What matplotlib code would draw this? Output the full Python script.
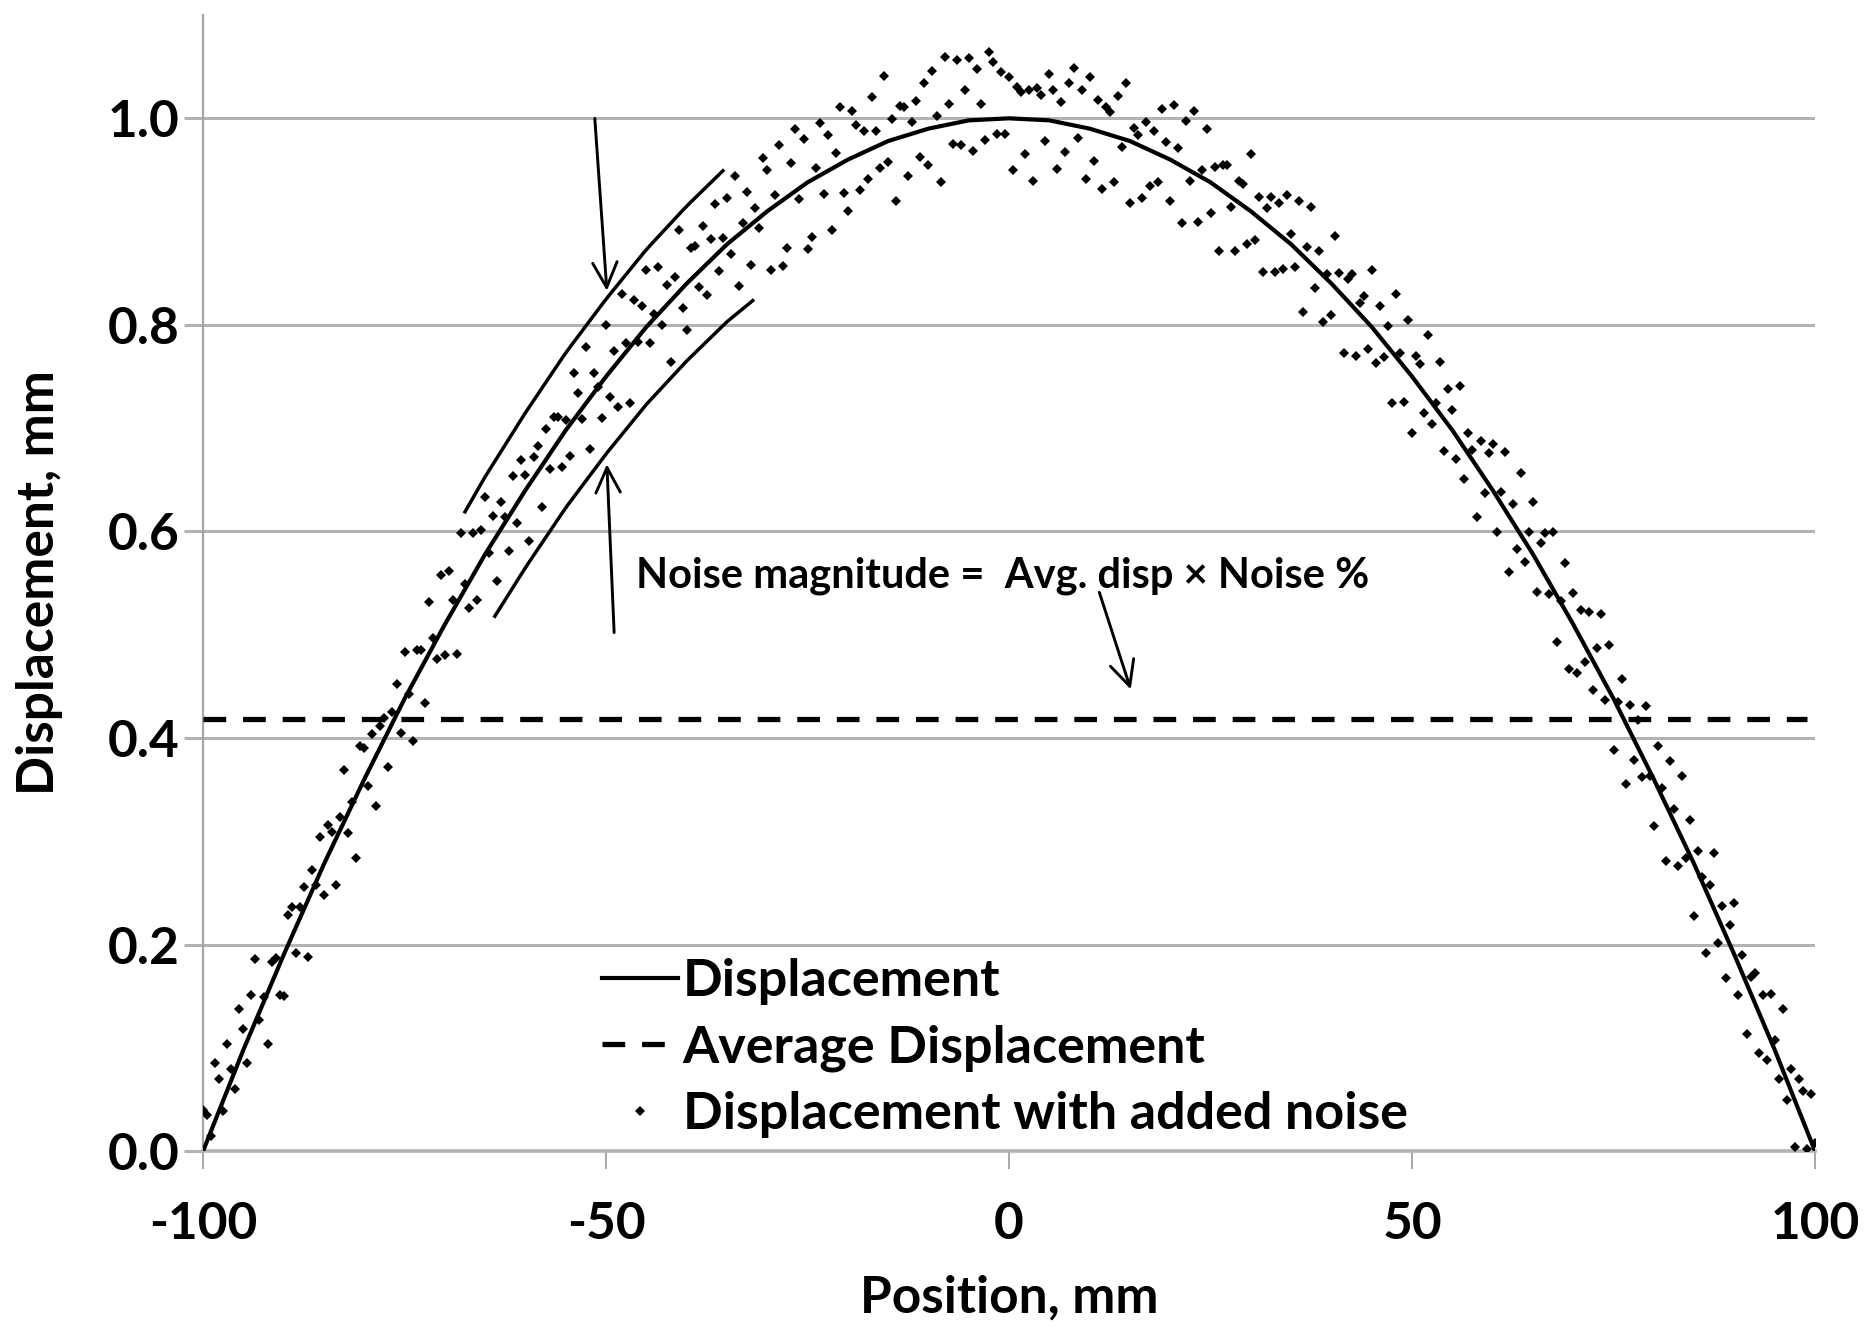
import numpy as np
import matplotlib
matplotlib.use("Agg")
from matplotlib import pyplot as plt

plt.rcParams['font.family'] = ['Lato', 'DejaVu Sans']
plt.rcParams['font.weight'] = 'bold'
plt.rcParams['axes.unicode_minus'] = False

# smooth displacement, read every 5 mm
position = [-100, -95, -90, -85, -80, -75, -70, -65, -60, -55, -50,
            -45, -40, -35, -30, -25, -20, -15, -10, -5, 0,
            5, 10, 15, 20, 25, 30, 35, 40, 45, 50,
            55, 60, 65, 70, 75, 80, 85, 90, 95, 100]
displacement = [0.0, 0.098, 0.19, 0.278, 0.36, 0.438, 0.51, 0.578, 0.64, 0.698, 0.75,
                0.798, 0.84, 0.878, 0.91, 0.938, 0.96, 0.978, 0.99, 0.998, 1.0,
                0.998, 0.99, 0.978, 0.96, 0.938, 0.91, 0.878, 0.84, 0.798, 0.75,
                0.698, 0.64, 0.578, 0.51, 0.438, 0.36, 0.278, 0.19, 0.098, 0.0]

avg_displacement = 0.418

# noisy samples (position in mm, displacement in micrometres)
noisy_x = [
    -100, -99.5, -99, -98.5, -98, -97.5, -97, -96.5, -96, -95.5, -95, -94.5, -94, -93.5, -93, -92.5, -92, -91.5, -91, -90.5,
    -90, -89.5, -89, -88.5, -88, -87.5, -87, -86.5, -86, -85.5, -85, -84.5, -84, -83.5, -83, -82.5, -82, -81.5, -81, -80.5,
    -80, -79.5, -79, -78.5, -78, -77.5, -77, -76.5, -76, -75.5, -75, -74.5, -74, -73.5, -73, -72.5, -72, -71.5, -71, -70.5,
    -70, -69.5, -69, -68.5, -68, -67.5, -67, -66.5, -66, -65.5, -65, -64.5, -64, -63.5, -63, -62.5, -62, -61.5, -61, -60.5,
    -60, -59.5, -59, -58.5, -58, -57.5, -57, -56.5, -56, -55.5, -55, -54.5, -54, -53.5, -53, -52.5, -52, -51.5, -51, -50.5,
    -50, -49.5, -49, -48.5, -48, -47.5, -47, -46.5, -46, -45.5, -45, -44.5, -44, -43.5, -43, -42.5, -42, -41.5, -41, -40.5,
    -40, -39.5, -39, -38.5, -38, -37.5, -37, -36.5, -36, -35.5, -35, -34.5, -34, -33.5, -33, -32.5, -32, -31.5, -31, -30.5,
    -30, -29.5, -29, -28.5, -28, -27.5, -27, -26.5, -26, -25.5, -25, -24.5, -24, -23.5, -23, -22.5, -22, -21.5, -21, -20.5,
    -20, -19.5, -19, -18.5, -18, -17.5, -17, -16.5, -16, -15.5, -15, -14.5, -14, -13.5, -13, -12.5, -12, -11.5, -11, -10.5,
    -10, -9.5, -9, -8.5, -8, -7.5, -7, -6.5, -6, -5.5, -5, -4.5, -4, -3.5, -3, -2.5, -2, -1.5, -1, -0.5,
    0, 0.5, 1, 1.5, 2, 2.5, 3, 3.5, 4, 4.5, 5, 5.5, 6, 6.5, 7, 7.5, 8, 8.5, 9, 9.5,
    10, 10.5, 11, 11.5, 12, 12.5, 13, 13.5, 14, 14.5, 15, 15.5, 16, 16.5, 17, 17.5, 18, 18.5, 19, 19.5,
    20, 20.5, 21, 21.5, 22, 22.5, 23, 23.5, 24, 24.5, 25, 25.5, 26, 26.5, 27, 27.5, 28, 28.5, 29, 29.5,
    30, 30.5, 31, 31.5, 32, 32.5, 33, 33.5, 34, 34.5, 35, 35.5, 36, 36.5, 37, 37.5, 38, 38.5, 39, 39.5,
    40, 40.5, 41, 41.5, 42, 42.5, 43, 43.5, 44, 44.5, 45, 45.5, 46, 46.5, 47, 47.5, 48, 48.5, 49, 49.5,
    50, 50.5, 51, 51.5, 52, 52.5, 53, 53.5, 54, 54.5, 55, 55.5, 56, 56.5, 57, 57.5, 58, 58.5, 59, 59.5,
    60, 60.5, 61, 61.5, 62, 62.5, 63, 63.5, 64, 64.5, 65, 65.5, 66, 66.5, 67, 67.5, 68, 68.5, 69, 69.5,
    70, 70.5, 71, 71.5, 72, 72.5, 73, 73.5, 74, 74.5, 75, 75.5, 76, 76.5, 77, 77.5, 78, 78.5, 79, 79.5,
    80, 80.5, 81, 81.5, 82, 82.5, 83, 83.5, 84, 84.5, 85, 85.5, 86, 86.5, 87, 87.5, 88, 88.5, 89, 89.5,
    90, 90.5, 91, 91.5, 92, 92.5, 93, 93.5, 94, 94.5, 95, 95.5, 96, 96.5, 97, 97.5, 98, 98.5, 99, 99.5,
    100]
noisy_um = [
    40, 35, 15, 85, 70, 39, 104, 79, 60, 138, 118, 85, 151, 186, 127, 149, 104, 183, 187, 151,
    150, 229, 236, 192, 236, 256, 188, 272, 258, 304, 248, 316, 309, 258, 323, 369, 308, 338, 284, 392,
    390, 353, 404, 334, 412, 419, 372, 425, 452, 405, 483, 443, 397, 485, 485, 434, 532, 497, 476, 558,
    480, 562, 534, 481, 598, 549, 526, 598, 534, 601, 633, 579, 615, 552, 628, 614, 581, 654, 608, 669,
    655, 591, 672, 683, 624, 699, 660, 711, 711, 662, 708, 673, 753, 734, 709, 779, 680, 753, 740, 710,
    800, 730, 775, 720, 830, 782, 724, 824, 783, 818, 853, 782, 811, 856, 800, 839, 764, 846, 892, 816,
    795, 874, 876, 837, 896, 829, 883, 917, 852, 884, 923, 869, 944, 838, 899, 929, 858, 913, 894, 962,
    950, 853, 926, 974, 857, 874, 957, 990, 922, 980, 873, 885, 952, 995, 927, 984, 892, 966, 1011, 928,
    910, 1007, 994, 931, 988, 941, 1021, 988, 952, 1041, 958, 999, 920, 1012, 1011, 944, 996, 1017, 963, 1034,
    955, 1046, 1002, 938, 1059, 1014, 975, 1056, 974, 1027, 1058, 968, 1048, 1014, 979, 1064, 1055, 985, 1045, 985,
    1040, 950, 1030, 1025, 965, 1027, 939, 1029, 1023, 978, 1043, 1027, 951, 1016, 967, 1034, 1049, 981, 1027, 941,
    1040, 959, 1018, 932, 1011, 1006, 938, 1022, 972, 1034, 918, 991, 984, 923, 996, 934, 988, 938, 1009, 977,
    920, 1013, 971, 899, 997, 939, 1007, 900, 950, 990, 908, 953, 872, 955, 955, 914, 872, 939, 936, 878,
    965, 882, 924, 851, 913, 924, 851, 918, 854, 926, 888, 856, 920, 812, 875, 914, 836, 872, 803, 849,
    810, 886, 850, 773, 844, 849, 770, 821, 828, 777, 853, 763, 818, 769, 799, 724, 830, 773, 725, 805,
    695, 770, 762, 715, 790, 704, 724, 764, 678, 738, 718, 670, 741, 651, 695, 679, 614, 688, 637, 676,
    685, 599, 638, 677, 561, 627, 583, 657, 570, 599, 628, 541, 589, 598, 539, 599, 493, 533, 569, 467,
    540, 463, 524, 474, 522, 446, 487, 520, 437, 490, 388, 435, 457, 355, 432, 379, 417, 362, 431, 363,
    315, 392, 352, 281, 378, 331, 276, 363, 284, 321, 228, 291, 265, 192, 258, 289, 201, 237, 168, 219,
    240, 151, 190, 113, 169, 172, 95, 151, 88, 152, 108, 70, 138, 49, 79, 4, 70, 58, 2, 55,
    8]

# noise band drawn beside the rising flank
band_upper = (-67.5, -35.5, 0.075)
band_lower = (-63.8, -31.8, -0.075)
noise_label = "Noise magnitude =  Avg. disp \u00d7 Noise %"

fig = plt.figure(figsize=(18.7, 13.31), dpi=100)
ax = fig.add_axes([0.1086, 0.1352, 0.862, 0.8535])

grid_grey = '#b3b3b3'
for v in [0.2, 0.4, 0.6, 0.8, 1.0]:
    ax.axhline(v, color=grid_grey, lw=2.2, zorder=0)

ax.plot(position, displacement, color='black', lw=3.0, label='Displacement', zorder=3)
ax.plot([-100, 99], [avg_displacement, avg_displacement], color='black', lw=3.8,
        dashes=(4.3, 3.2), label='Average Displacement', zorder=3)
ax.plot(noisy_x, np.array(noisy_um) / 1000.0, linestyle='none', marker='D', ms=5.0,
        mew=0, color='black', label='Displacement with added noise', zorder=4)

for x0, x1, off in (band_upper, band_lower):
    bx = np.linspace(x0, x1, 40)
    ax.plot(bx, np.interp(bx, position, displacement) + off, color='black', lw=2.5, zorder=5)

arrow = dict(arrowstyle='->,head_length=0.45,head_width=0.22', lw=2.1, color='black',
             shrinkA=0, shrinkB=0, mutation_scale=40)
ax.annotate('', xy=(-49.9, 0.833), xytext=(-51.4, 1.0), arrowprops=arrow, zorder=6)
ax.annotate('', xy=(-49.9, 0.665), xytext=(-49.0, 0.502), arrowprops=arrow, zorder=6)
ax.annotate('', xy=(15.1, 0.447), xytext=(11.2, 0.541), arrowprops=arrow, zorder=6)
ax.text(-46.3, 0.557, noise_label, fontsize=30, fontweight='bold', ha='left', va='center')

ax.set_xlim(-100, 100)
ax.set_ylim(0, 1.1)
ax.set_xticks([-100, -50, 0, 50, 100])
ax.set_yticks([0.0, 0.2, 0.4, 0.6, 0.8, 1.0])
ax.set_yticklabels(['0.0', '0.2', '0.4', '0.6', '0.8', '1.0'])

for s in ['top', 'right']:
    ax.spines[s].set_visible(False)
ax.spines['left'].set_color('#a6a6a6')
ax.spines['left'].set_linewidth(1.6)
ax.spines['bottom'].set_color(grid_grey)
ax.spines['bottom'].set_linewidth(2.6)

ax.tick_params(axis='x', length=13, width=1.1, color='#909090', pad=23, labelsize=37)
ax.tick_params(axis='y', length=14, width=2.2, color=grid_grey, pad=3, labelsize=37)

ax.set_xlabel('Position, mm', fontsize=37, fontweight='bold', labelpad=19)
ax.set_ylabel('Displacement, mm', fontsize=37, fontweight='bold', labelpad=32)

ax.legend(loc='upper left', bbox_to_anchor=(0.2475, 0.170), frameon=False, fontsize=37.5,
          handlelength=1.45, handletextpad=0.1, labelspacing=0.37, borderaxespad=0,
          borderpad=0, numpoints=1, markerscale=1.0)

fig.savefig('out.png', dpi=100)
